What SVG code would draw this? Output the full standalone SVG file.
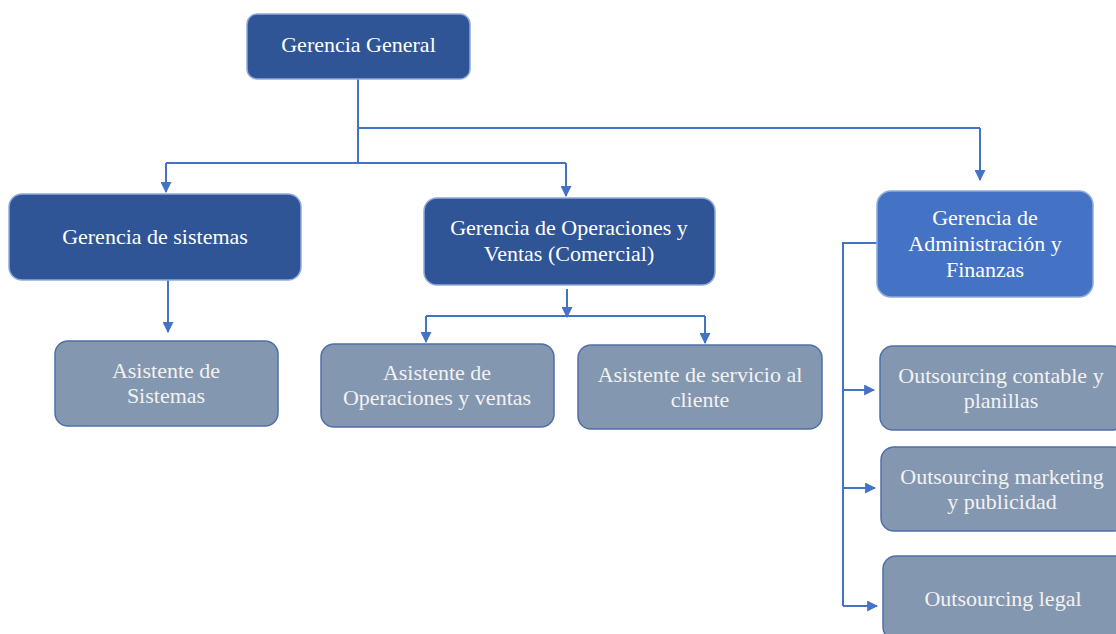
<svg xmlns="http://www.w3.org/2000/svg" width="1116" height="634" viewBox="0 0 1116 634">
  <defs>
    <marker id="arrow" viewBox="0 0 10 10" refX="9" refY="5" markerWidth="11" markerHeight="11" markerUnits="userSpaceOnUse" orient="auto">
      <path d="M0,0 L10,5 L0,10 z" fill="#4472C4"/>
    </marker>
    <style>
      .dark { fill: #2F5597; stroke: #8FAADC; stroke-width: 1.5; }
      .mid { fill: #4472C4; stroke: #8FAADC; stroke-width: 1.5; }
      .grey { fill: #8497B0; stroke: #4F6FA8; stroke-width: 1.5; }
      .lbl { font-family: "Liberation Serif", "Times New Roman", serif; font-size: 22px; fill: #FFFFFF; text-anchor: middle; }
      .lbl2 { font-family: "Liberation Serif", "Times New Roman", serif; font-size: 22px; fill: #F2F2F2; text-anchor: middle; }
      .conn { fill: none; stroke: #4472C4; stroke-width: 2; }
      .arr { fill: none; stroke: #4472C4; stroke-width: 2; marker-end: url(#arrow); }
    </style>
  </defs>
  <rect width="1116" height="634" fill="#FFFFFF"/>

  <g id="connectors">
    <path class="conn" d="M358,79 V163"/>
    <path class="conn" d="M358,128 H980"/>
    <path class="arr" d="M980,128 V180"/>
    <path class="conn" d="M166,163 H566"/>
    <path class="arr" d="M166,163 V192"/>
    <path class="arr" d="M566,163 V196"/>
    <path class="arr" d="M168,280 V332"/>
    <path class="arr" d="M567,289 V317"/>
    <path class="conn" d="M426,316 H705"/>
    <path class="arr" d="M426,316 V342"/>
    <path class="arr" d="M705,316 V343"/>
    <path class="conn" d="M877,243 H843 V606"/>
    <path class="arr" d="M843,390 H874"/>
    <path class="arr" d="M843,488 H875"/>
    <path class="arr" d="M843,606 H877"/>
  </g>

  <g id="gerencia-general">
    <rect class="dark" x="247" y="14" width="223" height="65" rx="10"/>
    <text class="lbl" x="358.5" y="52">Gerencia General</text>
  </g>

  <g id="gerencia-sistemas">
    <rect class="dark" x="9" y="194" width="292" height="86" rx="13"/>
    <text class="lbl" x="155" y="244">Gerencia de sistemas</text>
  </g>

  <g id="gerencia-operaciones">
    <rect class="dark" x="424" y="198" width="291" height="87" rx="13"/>
    <text class="lbl" x="569" y="235">Gerencia de Operaciones y</text>
    <text class="lbl" x="569" y="261">Ventas (Comercial)</text>
  </g>

  <g id="gerencia-administracion">
    <rect class="mid" x="877" y="191" width="216" height="106" rx="14"/>
    <text class="lbl" x="985" y="225">Gerencia de</text>
    <text class="lbl" x="985" y="251">Administración y</text>
    <text class="lbl" x="985" y="277">Finanzas</text>
  </g>

  <g id="asistente-sistemas">
    <rect class="grey" x="55" y="341" width="223" height="85" rx="13"/>
    <text class="lbl2" x="166" y="378">Asistente de</text>
    <text class="lbl2" x="166" y="403">Sistemas</text>
  </g>

  <g id="asistente-operaciones">
    <rect class="grey" x="321" y="344" width="233" height="83" rx="13"/>
    <text class="lbl2" x="437" y="380">Asistente de</text>
    <text class="lbl2" x="437" y="405">Operaciones y ventas</text>
  </g>

  <g id="asistente-servicio">
    <rect class="grey" x="578" y="345" width="244" height="84" rx="13"/>
    <text class="lbl2" x="700" y="382">Asistente de servicio al</text>
    <text class="lbl2" x="700" y="407">cliente</text>
  </g>

  <g id="outsourcing-contable">
    <rect class="grey" x="880" y="346" width="245" height="84" rx="13"/>
    <text class="lbl2" x="1001" y="383">Outsourcing contable y</text>
    <text class="lbl2" x="1001" y="408">planillas</text>
  </g>

  <g id="outsourcing-marketing">
    <rect class="grey" x="881" y="447" width="245" height="84" rx="13"/>
    <text class="lbl2" x="1002" y="484">Outsourcing marketing</text>
    <text class="lbl2" x="1002" y="509">y publicidad</text>
  </g>

  <g id="outsourcing-legal">
    <rect class="grey" x="883" y="556" width="245" height="84" rx="13"/>
    <text class="lbl2" x="1003" y="606">Outsourcing legal</text>
  </g>
</svg>
